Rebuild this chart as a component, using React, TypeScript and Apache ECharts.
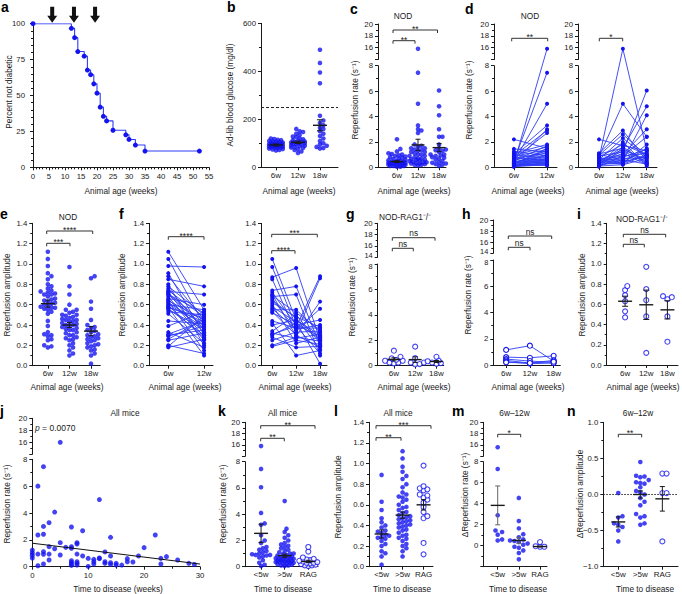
import React, { useEffect, useRef } from "react";
import * as echarts from "echarts";

const FONT = "Liberation Sans, Arial, Helvetica, sans-serif";
const BLUE = "#1414f0";
const LBLUE = "#2e3cf5";
const INK = "#1a1a1a";

// ---------------- data ----------------
// a: Kaplan-Meier
const kmWeeks = [0, 12, 13, 14, 16, 17, 18, 19, 20, 21, 22, 23, 25, 29, 30, 32, 35, 52];
const kmPercent = [100, 96.8, 90.3, 80.6, 77.4, 67.7, 64.5, 58.1, 51.6, 41.9, 35.5, 32.3, 25.8, 22.6, 19.4, 15.5, 11.3, 11.3];
const arrowWeeks = [6, 12.8, 19.4];

const ageCats3 = ["6w", "12w", "18w"];
const ageCats2 = ["6w", "12w"];
const ttdCats = ["<5w", ">5w", "RAG"];

// b: glucose
const glucose6w = [120, 118, 115, 113, 110, 108, 106, 105, 103, 101, 100, 99, 98, 97, 96, 95, 94, 93, 92, 91, 90, 89, 88, 87, 86, 85, 84, 83, 82, 80, 78, 76, 74, 72, 70, 95];
const glucose12w = [160, 150, 147, 140, 135, 128, 125, 120, 117, 113, 110, 108, 106, 105, 103, 101, 100, 98, 96, 94, 92, 90, 88, 85, 82, 80, 76, 72, 66, 60];
const glucose18w = [490, 435, 395, 350, 215, 195, 185, 175, 165, 160, 150, 140, 130, 120, 110, 100, 95, 90, 85, 80, 78];
const glucoseMean = [93, 104, 175];
const glucoseSem = [4, 5, 23];
const glucoseThreshold = 250;

// c/d: reperfusion rate NOD (paired)
const rate6w = [2.2, 1.45, 1.25, 1.1, 1.05, 1.0, 0.95, 0.9, 0.85, 0.8, 0.75, 0.7, 0.65, 0.6, 0.55, 0.5, 0.5, 0.45, 0.45, 0.4, 0.4, 0.35, 0.35, 0.3, 0.3, 0.3, 0.25, 0.25, 0.2, 0.2, 0.2, 0.15, 0.15, 0.1, 0.1, 0.1, 0.05, 0.05, 0.3, 0.35];
const rate12w = [1.5, 1.2, 0.9, 1.8, 3.3, 0.7, 1.6, 2.9, 1.4, 0.5, 1.1, 0.6, 2.7, 0.4, 1.3, 7.45, 1.7, 5.0, 0.35, 0.9, 1.0, 3.0, 0.3, 15.8, 1.2, 0.8, 0.6, 1.5, 0.25, 0.2, 0.45, 0.15, 0.7, 1.0, 0.3, 0.55, 0.2, 0.4, 1.35, 0.65];
const trio6w = [2.2, 1.1, 1.05, 1.0, 0.95, 0.9, 0.85, 0.8, 0.75, 0.7, 0.65, 0.6, 0.55, 0.5, 0.5, 0.45, 0.4, 0.4, 0.35, 0.3, 0.3, 0.25, 0.2, 0.2, 0.15, 0.1, 0.1, 0.05, 0.6];
const trio12w = [1.7, 2.9, 1.5, 0.6, 2.6, 1.2, 5.0, 1.8, 0.5, 15.8, 1.0, 2.3, 0.9, 1.4, 0.35, 0.8, 1.6, 0.25, 1.1, 0.7, 1.3, 0.3, 2.0, 0.45, 0.6, 0.2, 1.5, 0.9, 0.4];
const trio18w = [1.3, 0.5, 4.8, 1.2, 0.9, 6.05, 2.4, 1.0, 4.1, 1.35, 3.0, 0.8, 2.4, 0.6, 1.0, 1.4, 0.4, 0.95, 0.2, 0.75, 0.3, 1.8, 0.1, 0.85, 0.25, 0.7, 0.35, 1.1, 1.5];
const rateMean = [0.45, 1.76, 1.55];
const rateSem = [0.07, 0.45, 0.32];

// e/f: amplitude NOD
const amp6w = [1.12, 1.05, 0.98, 0.91, 0.88, 0.85, 0.8, 0.78, 0.76, 0.74, 0.73, 0.72, 0.71, 0.7, 0.7, 0.68, 0.66, 0.65, 0.64, 0.63, 0.62, 0.61, 0.6, 0.59, 0.58, 0.57, 0.57, 0.56, 0.55, 0.53, 0.51, 0.44, 0.39, 0.33, 0.31, 0.3, 0.29, 0.26, 0.25, 0.2, 0.19, 0.18];
const amp12w = [0.55, 0.4, 0.97, 0.3, 0.45, 0.78, 0.2, 0.5, 0.35, 0.48, 0.7, 0.28, 0.42, 0.38, 0.52, 0.25, 0.6, 0.33, 0.45, 0.15, 0.4, 0.37, 0.55, 0.27, 0.43, 0.1, 0.47, 0.3, 0.36, 0.5, 0.22, 0.41, 0.53, 0.18, 0.44, 0.35, 0.39, 0.46, 0.32, 0.12, 0.49, 0.26];
const ampTrio6w = [1.05, 0.97, 0.87, 0.85, 0.74, 0.72, 0.7, 0.69, 0.68, 0.66, 0.64, 0.62, 0.6, 0.58, 0.56, 0.55, 0.53, 0.52, 0.44, 0.42, 0.4, 0.34, 0.32, 0.31, 0.3, 0.28, 0.25, 0.2, 0.19];
const ampTrio12w = [0.45, 0.38, 0.96, 0.32, 0.78, 0.4, 0.29, 0.52, 0.7, 0.35, 0.47, 0.48, 0.22, 0.43, 0.36, 0.55, 0.3, 0.4, 0.37, 0.1, 0.45, 0.5, 0.27, 0.39, 0.42, 0.18, 0.33, 0.28, 0.25];
const ampTrio18w = [0.3, 0.88, 0.25, 0.86, 0.2, 0.45, 0.63, 0.35, 0.1, 0.56, 0.16, 0.38, 0.28, 0.02, 0.4, 0.33, 0.18, 0.29, 0.37, 0.15, 0.27, 0.22, 0.31, 0.12, 0.26, 0.19, 0.34, 0.24, 0.21];
const ampMean = [0.61, 0.4, 0.34];
const ampSem = [0.035, 0.025, 0.045];

// g/h/i: NOD-RAG1-/-
const ragRate6w = [1.18, 0.7, 0.58, 0.45, 0.39, 0.39, 0.24, 0.24, 0.18];
const ragRate12w = [1.5, 0.6, 0.25, 0.25, 0.13, 0.1];
const ragRate18w = [0.7, 0.4, 0.35, 0.3, 0.25, 0.2, 0.15];
const ragRateMean = [0.5, 0.48, 0.33];
const ragRateSem = [0.12, 0.22, 0.08];
const ragPair6w = [1.15, 0.6, 0.45, 0.35, 0.25, 0.2];
const ragPair12w = [1.47, 0.55, 0.3, 0.15, 0.1, 0.15];
const ragPair18w = [0.3, 0.7, 0.2, 0.35, 0.15, 0.25];
const ragAmp6w = [0.78, 0.74, 0.69, 0.63, 0.53, 0.47];
const ragAmp12w = [0.97, 0.75, 0.64, 0.48, 0.12];
const ragAmp18w = [0.68, 0.67, 0.65, 0.48, 0.23];
const ragAmpMean = [0.63, 0.595, 0.545];
const ragAmpSem = [0.05, 0.145, 0.09];

// j: rate vs time to disease
const ttdWeeks = [0, 0, 0, 0, 1, 1, 1, 1, 2, 2, 2, 2, 2, 2, 3, 3, 3, 3, 4, 4, 5, 5, 5, 6, 7, 7, 7, 7, 7, 7, 7, 8, 8, 8, 8, 8, 8, 9, 9, 10, 10, 11, 11, 11, 12, 12, 12, 13, 13, 13, 14, 14, 14, 14, 15, 15, 16, 17, 17, 18, 19, 20, 22, 23, 23, 24, 26, 28, 29];
const ttdRate = [1.24, 1.04, 0.85, 0.65, 6.0, 2.36, 0.94, 0.07, 7.45, 3.0, 2.42, 1.12, 0.92, 0.2, 3.28, 1.49, 0.94, 0.5, 4.07, 1.34, 16, 1.79, 0.87, 1.44, 2.96, 1.49, 1.37, 0.45, 0.32, 0.2, 0.1, 1.79, 1.69, 0.94, 0.37, 0.25, 0.12, 2.68, 0.8, 0.62, 0.02, 0.55, 0.37, 0.2, 5.0, 0.65, 0.6, 1.1, 0.37, 0.25, 2.19, 0.8, 0.3, 0.17, 0.25, 0.12, 0.12, 0.6, 0.37, 0.35, 0.8, 1.42, 2.36, 0.62, 0.2, 0.75, 0.5, 0.25, 0.17];
const regIntercept = 1.75;
const regSlope = -0.0517;
const regRange = [0, 30];

// k: rate by time to disease
const allRateLt5 = [15.8, 7.45, 6.05, 4.1, 3.3, 3.2, 2.4, 2.0, 1.8, 1.5, 1.4, 1.3, 1.2, 1.1, 1.0, 0.95, 0.9, 0.9, 0.85, 0.8, 0.7, 0.5, 0.3, 0.15, 0.05];
const allRateGt5 = [5.0, 2.9, 2.65, 2.4, 2.2, 2.0, 1.8, 1.7, 1.6, 1.5, 1.4, 1.3, 1.2, 1.1, 1.0, 1.0, 0.95, 0.9, 0.85, 0.8, 0.75, 0.7, 0.65, 0.6, 0.6, 0.55, 0.5, 0.5, 0.45, 0.4, 0.4, 0.35, 0.3, 0.3, 0.25, 0.2, 0.2, 0.15, 0.1, 0.1, 0.05, 0.6, 0.7, 0.45, 0.35];
const allRateRag = [1.5, 1.15, 0.7, 0.6, 0.55, 0.5, 0.45, 0.4, 0.35, 0.3, 0.3, 0.25, 0.2, 0.15, 0.1, 0.1, 0.05];
const allRateMean = [2.54, 0.84, 0.4];
const allRateSem = [0.7, 0.12, 0.09];

// l: amplitude by time to disease
const allAmpLt5 = [0.89, 0.63, 0.55, 0.47, 0.43, 0.4, 0.38, 0.35, 0.33, 0.31, 0.3, 0.29, 0.27, 0.25, 0.22, 0.2, 0.15, 0.13, 0.1, 0.02, 0.34, 0.28];
const allAmpGt5 = [1.12, 1.05, 0.97, 0.92, 0.88, 0.85, 0.8, 0.77, 0.72, 0.7, 0.68, 0.67, 0.65, 0.63, 0.6, 0.58, 0.57, 0.55, 0.53, 0.52, 0.5, 0.49, 0.48, 0.47, 0.46, 0.45, 0.44, 0.43, 0.42, 0.41, 0.4, 0.39, 0.38, 0.36, 0.35, 0.33, 0.31, 0.3, 0.28, 0.27, 0.25, 0.22, 0.2, 0.18, 0.15, 0.1];
const allAmpRag = [0.98, 0.78, 0.76, 0.75, 0.74, 0.7, 0.69, 0.67, 0.65, 0.62, 0.58, 0.53, 0.49, 0.47, 0.23, 0.12];
const allAmpMean = [0.317, 0.5, 0.6];
const allAmpSem = [0.04, 0.03, 0.05];

// m: delta rate 6w-12w
const dRateLt5 = [15.6, 7.3, 2.9, 1.45, 1.3, 1.05, 0.6, 0.5];
const dRateGt5 = [4.55, 2.35, 1.65, 1.1, 0.8, 0.6, 0.5, 0.45, 0.35, 0.2, 0.1, -0.1, -0.2, -0.45, -0.7, -1.3];
const dRateRag = [0.35, 0.05, -0.05, -0.1, -0.1];
const dRateMean = [3.84, 0.5, -0.08];
const dRateSem = [1.85, 0.3, 0.07];

// n: delta amplitude 6w-12w
const dAmpLt5 = [0.02, -0.3, -0.32, -0.4, -0.42, -0.45, -0.5, -0.65];
const dAmpGt5 = [0.45, 0.26, 0.25, 0.24, 0.2, 0.17, 0.16, 0.15, 0.1, 0.05, 0.03, 0.0, -0.05, -0.1, -0.15, -0.27, -0.3, -0.32, -0.4, -0.42];
const dAmpRag = [0.29, 0.29, 0.02, 0.02, -0.65];
const dAmpMean = [-0.38, 0.0, -0.06];
const dAmpSem = [0.07, 0.05, 0.17];

// ---------------- builders ----------------
function buildOption() {
  const grids: any[] = [];
  const xAxes: any[] = [];
  const yAxes: any[] = [];
  const series: any[] = [];
  const graphics: any[] = [];

  const line = { show: true, onZero: false, lineStyle: { color: INK, width: 1 } };
  const tickStyle = { color: INK, width: 1 };

  function addGrid(g: any, x: any, y: any) {
    grids.push({ left: g.left, top: g.top, width: g.width, height: g.height, containLabel: false });
    const gi = grids.length - 1;
    xAxes.push({ gridIndex: gi, ...x });
    yAxes.push({ gridIndex: gi, ...y });
    return gi;
  }

  function yCfg(min: number, max: number, interval: number, o: any = {}) {
    return {
      type: "value", min, max, interval,
      axisLine: line,
      axisTick: { show: true, length: 3, lineStyle: tickStyle },
      minorTick: o.minor ? { show: true, splitNumber: o.minor, length: 2, lineStyle: tickStyle } : { show: false },
      axisLabel: {
        fontFamily: FONT, fontSize: 7.8, color: INK, margin: o.margin ?? 5,
        formatter: (v: number) => {
          if (o.hide && o.hide.some((h: number) => Math.abs(h - v) < 1e-6)) return "";
          return o.fmt ? o.fmt(v) : String(Math.round(v * 1000) / 1000);
        },
      },
      splitLine: { show: false },
      minorSplitLine: { show: false },
    };
  }

  function xCat(cats: string[], min: number, max: number) {
    const vals = cats.map((_, i) => i);
    return {
      type: "value", min, max,
      axisLine: line,
      axisTick: { show: true, length: 3, customValues: vals, lineStyle: tickStyle },
      axisLabel: { customValues: vals, formatter: (v: number) => cats[Math.round(v)] ?? "", fontFamily: FONT, fontSize: 8, color: INK, margin: 4 },
      splitLine: { show: false },
    };
  }

  function xVal(min: number, max: number, interval: number, minor: number) {
    return {
      type: "value", min, max, interval,
      axisLine: line,
      axisTick: { show: true, length: 3, lineStyle: tickStyle },
      minorTick: { show: true, splitNumber: minor, length: 2, lineStyle: tickStyle },
      axisLabel: { fontFamily: FONT, fontSize: 7.8, color: INK, margin: 5 },
      splitLine: { show: false },
      minorSplitLine: { show: false },
    };
  }

  const ident = (v: number) => v;

  function addPlain(g: any, x: any, y: any) {
    const gi = addGrid(g, x, y);
    return { gi, tf: ident, pxPerY: g.height / (y.max - y.min), xPerPx: (x.max - x.min) / g.width };
  }

  // ---------- texts ----------
  function txt(x: number, y: number, text: string, o: any = {}) {
    graphics.push({
      type: "text", x, y, silent: true, z: 10,
      style: { text, fontFamily: FONT, fontSize: 8.3, fill: INK, textAlign: "center", align: "center", textVerticalAlign: "middle", verticalAlign: "middle", ...o },
    });
  }

  function addBroken(b: any) {
    const k = (b.y0 - b.lTop) / (b.lMax - b.lMin);
    const ku = (b.uBot - b.uTop) / (b.uMax - b.uMin);
    const tf = (v: number) => (v <= b.lMax ? (v - b.lMin) * k : b.y0 - b.uBot + (v - b.uMin) * ku);
    const H = b.y0 - b.uTop;
    const hideL = (b.hideL || []).concat(b.sepLabels ? [b.lMax] : []);
    const hideU = (b.hideU || []).concat(b.sepLabels ? [b.uMin] : []);
    addGrid({ left: b.left, top: b.lTop, width: b.width, height: b.y0 - b.lTop }, b.x,
      yCfg(b.lMin, b.lMax, 2, { minor: 2, hide: hideL }));
    addGrid({ left: b.left, top: b.uTop, width: b.width, height: b.uBot - b.uTop }, { ...b.x, show: false },
      yCfg(b.uMin, b.uMax, 2, { minor: 2, hide: hideU }));
    const gi = addGrid({ left: b.left, top: b.uTop, width: b.width, height: H },
      { type: "value", show: false, min: b.x.min, max: b.x.max },
      { type: "value", show: false, min: 0, max: H });
    if (b.sepLabels) {
      const o = { fontSize: 7.4, textAlign: "right", align: "right" };
      txt(b.left - 5, b.uBot - 2.2, String(b.uMin), o);
      txt(b.left - 5, b.lTop + 2.4, String(b.lMax), o);
    }
    return { gi, tf, pxPerY: 1, xPerPx: (b.x.max - b.x.min) / b.width };
  }

  function swarm(vals: number[], cat: number, P: any, dist: number, maxHW: number) {
    const idx = vals.map((_, i) => i).sort((a, b) => vals[a] - vals[b]);
    const placed: number[][] = [];
    const out: number[][] = [];
    const step = dist / 2;
    for (const i of idx) {
      const y = P.tf(vals[i]);
      const py = y * P.pxPerY;
      let best = 0;
      let bestD = -1;
      for (let kk = 0; ; kk++) {
        const off = kk === 0 ? 0 : (kk % 2 === 1 ? 1 : -1) * Math.ceil(kk / 2) * step;
        if (Math.abs(off) > maxHW) break;
        let md = Infinity;
        for (const p of placed) {
          const d = Math.hypot(p[0] - off, p[1] - py);
          if (d < md) md = d;
        }
        if (md >= dist) { best = off; bestD = md; break; }
        if (md > bestD) { bestD = md; best = off; }
      }
      placed.push([best, py]);
      out.push([cat + best * P.xPerPx, y]);
    }
    return out;
  }

  function dots(P: any, pts: number[][], hollow: boolean, size = 4.6) {
    series.push({
      type: "scatter", xAxisIndex: P.gi, yAxisIndex: P.gi, data: pts, silent: true, z: 3,
      symbolSize: hollow ? 5 : size,
      itemStyle: hollow ? { color: "#ffffff", borderColor: BLUE, borderWidth: 1.1 } : { color: BLUE },
    });
  }

  function groups(P: any, gs: number[][], hollowFlags: boolean[], dist: number, maxHW: number, size = 4.6) {
    gs.forEach((vals, i) => dots(P, swarm(vals, i, P, dist, maxHW), hollowFlags[i], size));
  }

  function pairs(P: any, cols: number[][], hollow: boolean) {
    const n = cols[0].length;
    for (let s = 0; s < n; s++) {
      series.push({
        type: "line", xAxisIndex: P.gi, yAxisIndex: P.gi, silent: true, z: 3,
        data: cols.map((c, i) => [i, P.tf(c[s])]),
        symbol: "circle", symbolSize: hollow ? 5 : 4, showSymbol: true,
        lineStyle: { color: LBLUE, width: 0.9 },
        itemStyle: hollow ? { color: "#ffffff", borderColor: BLUE, borderWidth: 1.1 } : { color: BLUE },
      });
    }
  }

  function meanSem(P: any, means: number[], sems: number[], hw: number, cw: number, semColor = INK) {
    series.push({
      type: "custom", xAxisIndex: P.gi, yAxisIndex: P.gi, z: 6, silent: true,
      data: means.map((m, i) => [i, P.tf(m), P.tf(m + sems[i]), P.tf(m - sems[i])]),
      encode: { x: 0, y: 1 },
      renderItem: (_p: any, api: any) => {
        const x = api.value(0);
        const c = api.coord([x, api.value(1)]);
        const t = api.coord([x, api.value(2)]);
        const b = api.coord([x, api.value(3)]);
        const ls = { stroke: semColor, lineWidth: 1 };
        return {
          type: "group",
          children: [
            { type: "line", shape: { x1: t[0], y1: t[1], x2: b[0], y2: b[1] }, style: ls },
            { type: "line", shape: { x1: t[0] - cw, y1: t[1], x2: t[0] + cw, y2: t[1] }, style: ls },
            { type: "line", shape: { x1: b[0] - cw, y1: b[1], x2: b[0] + cw, y2: b[1] }, style: ls },
            { type: "line", shape: { x1: c[0] - hw, y1: c[1], x2: c[0] + hw, y2: c[1] }, style: { stroke: INK, lineWidth: 1.4 } },
          ],
        };
      },
    });
  }

  function vtxt(x: number, y: number, text: string) {
    graphics.push({
      type: "text", x, y, rotation: Math.PI / 2, silent: true, z: 10,
      style: { text, fontFamily: FONT, fontSize: 8.3, fill: INK, textAlign: "center", align: "center", textVerticalAlign: "middle", verticalAlign: "middle" },
    });
  }
  function letter(x: number, y: number, t: string) {
    txt(x, y, t, { fontSize: 14, fontWeight: "bold", textAlign: "left", align: "left", textVerticalAlign: "top", verticalAlign: "top", fill: "#000" });
  }
  function bracket(x1: number, x2: number, y: number, label: string) {
    graphics.push({
      type: "polyline", silent: true, z: 10,
      shape: { points: [[x1, y + 3], [x1, y], [x2, y], [x2, y + 3]] },
      style: { stroke: "#333", lineWidth: 1, fill: "none" },
    });
    const isStar = label.indexOf("*") >= 0;
    txt((x1 + x2) / 2, isStar ? y - 1.2 : y - 4.5, label, { fontSize: isStar ? 8.5 : 8.3 });
  }

  const RATE = "Reperfusion rate (s⁻¹)";
  const AMP = "Reperfusion amplitude";
  const AGE = "Animal age (weeks)";
  const TTD = "Time to disease";
  const RAGT = "NOD-RAG1⁻/⁻";

  // ================= Row 1 =================
  // a
  const A = addPlain({ left: 33, top: 23.7, width: 176, height: 143.6 }, xVal(0, 55, 5, 5), yCfg(0, 100, 25, { minor: 5, margin: 8 }));
  series.push({
    type: "line", xAxisIndex: A.gi, yAxisIndex: A.gi, step: "end", silent: true,
    data: kmWeeks.map((w, i) => [w, kmPercent[i]]),
    symbol: "circle", symbolSize: 5, showSymbol: true,
    lineStyle: { color: LBLUE, width: 1.1 }, itemStyle: { color: BLUE },
    markPoint: {
      silent: true,
      symbol: "path://M3,0L7,0L7,9L10,9L5,16L0,9L3,9Z",
      symbolSize: [10, 16], symbolKeepAspect: false, symbolOffset: [0, -9],
      itemStyle: { color: "#111" }, label: { show: false },
      data: arrowWeeks.map((w) => ({ coord: [w, 100] })),
    },
  });
  letter(1, 0, "a");
  vtxt(9, 92, "Percent not diabetic");
  txt(121, 190.5, AGE);

  // b
  const B = addPlain({ left: 261, top: 23.3, width: 77, height: 144 }, xCat(ageCats3, -0.68, 2.82), yCfg(0, 600, 200, { minor: 2 }));
  groups(B, [glucose6w, glucose12w, glucose18w], [false, false, false], 3.4, 8);
  series[series.length - 1].markLine = {
    silent: true, symbol: ["none", "none"], label: { show: false },
    lineStyle: { color: "#222", type: [3, 2], width: 1 },
    data: [{ yAxis: glucoseThreshold }],
  };
  meanSem(B, glucoseMean, glucoseSem, 7, 3);
  letter(227, 0, "b");
  vtxt(230, 95, "Ad-lib blood glucose (mg/dl)");
  txt(299, 190.5, AGE);

  // c
  const yRow1 = { y0: 167.3, lTop: 65.7, uBot: 59.5, uTop: 24, lMin: 0, lMax: 8, uMin: 14, uMax: 20, hideU: [14] };
  const C = addBroken({ left: 378, width: 68, x: xCat(ageCats3, -0.9, 2.33), ...yRow1 });
  groups(C, [rate6w, rate12w, trio18w], [false, false, false], 3.4, 10);
  meanSem(C, rateMean, rateSem, 6.5, 2.5);
  letter(350, 2, "c");
  txt(403, 16, "NOD");
  bracket(393, 437.5, 30, "**");
  bracket(393, 415, 40.7, "**");
  vtxt(355, 100, RATE);
  txt(414, 190.5, AGE);

  // d left
  const D1 = addBroken({ left: 494, width: 63, x: xCat(ageCats2, -0.6, 1.3), ...yRow1 });
  pairs(D1, [rate6w, rate12w], false);
  // d right
  const D2 = addBroken({ left: 578, width: 79, x: xCat(ageCats3, -0.88, 2.43), ...yRow1 });
  pairs(D2, [trio6w, trio12w, trio18w], false);
  letter(465, 2, "d");
  txt(530, 16, "NOD");
  bracket(511.7, 547.7, 38.3, "**");
  bracket(599.3, 622.7, 38.3, "*");
  vtxt(469, 100, RATE);
  txt(528, 190.5, AGE);
  txt(622, 190.5, AGE);

  // ================= Row 2 =================
  const fmt1 = (v: number) => v.toFixed(1);
  const yAmp = () => yCfg(0, 1.4, 0.2, { minor: 2, fmt: fmt1 });
  // e
  const E = addPlain({ left: 32.3, top: 223.3, width: 68, height: 142.4 }, xCat(ageCats3, -0.72, 2.43), yAmp());
  groups(E, [amp6w, amp12w, ampTrio18w], [false, false, false], 3.6, 10);
  meanSem(E, ampMean, ampSem, 7, 2.5);
  letter(0, 207, "e");
  txt(68, 216.5, "NOD");
  bracket(46.7, 92.7, 231, "****");
  bracket(46.7, 70, 243.3, "***");
  vtxt(6.7, 295, AMP);
  txt(67, 386.5, AGE);

  // f left
  const F1 = addPlain({ left: 149, top: 223.3, width: 64, height: 142.4 }, xCat(ageCats2, -0.54, 1.25), yAmp());
  pairs(F1, [amp6w, amp12w], false);
  // f right
  const F2 = addPlain({ left: 261, top: 223.3, width: 66, height: 142.4 }, xCat(ageCats3, -0.47, 2.29), yAmp());
  pairs(F2, [ampTrio6w, ampTrio12w, ampTrio18w], false);
  letter(119, 207, "f");
  bracket(168.3, 204, 236.7, "****");
  bracket(271.7, 317.3, 234.3, "***");
  bracket(271.7, 295, 250.7, "****");
  vtxt(122, 295, AMP);
  txt(185, 386.5, AGE);
  txt(295, 386.5, AGE);

  // g
  const G = addBroken({ left: 377.7, width: 66, x: xCat(ageCats3, -0.76, 2.34), y0: 365.7, lTop: 264, uBot: 257.3, uTop: 223.3, lMin: 0, lMax: 8, uMin: 14, uMax: 20, sepLabels: true });
  groups(G, [ragRate6w, ragRate12w, ragRate18w], [true, true, true], 4.4, 10);
  meanSem(G, ragRateMean, ragRateSem, 6.5, 2.5);
  letter(346, 207, "g");
  txt(405, 216.5, RAGT);
  bracket(392.3, 435, 237.7, "ns");
  bracket(392.3, 413.3, 248.3, "ns");
  vtxt(352, 297, RATE);
  txt(414, 386.5, AGE);

  // h
  const H = addBroken({ left: 493.3, width: 67, x: xCat(ageCats3, -0.54, 2.28), y0: 365, lTop: 260, uBot: 253.3, uTop: 220, lMin: 0, lMax: 8, uMin: 14, uMax: 20, sepLabels: true });
  pairs(H, [ragPair6w, ragPair12w, ragPair18w], true);
  letter(462, 207, "h");
  bracket(508.3, 551.7, 236, "ns");
  bracket(508.3, 530, 247.3, "ns");
  vtxt(468, 295, RATE);
  txt(528, 386.5, AGE);

  // i
  const I = addPlain({ left: 606.7, top: 223.3, width: 71.3, height: 141.7 }, xCat(ageCats3, -0.87, 2.5), yAmp());
  groups(I, [ragAmp6w, ragAmp12w, ragAmp18w], [true, true, true], 4.4, 8);
  meanSem(I, ragAmpMean, ragAmpSem, 7, 3);
  letter(577, 207, "i");
  txt(642, 219, RAGT);
  bracket(623.3, 665.7, 234.3, "ns");
  bracket(623.3, 644.3, 244.3, "ns");
  vtxt(582, 295, AMP);
  txt(643, 386.5, AGE);

  // ================= Row 3 =================
  // j
  const J = addBroken({ left: 32.3, width: 167.7, x: xVal(0, 30, 10, 2), y0: 566.7, lTop: 459.3, uBot: 454.3, uTop: 418.3, lMin: 0, lMax: 8, uMin: 14, uMax: 20, hideU: [14] });
  dots(J, ttdWeeks.map((w, i) => [w, J.tf(ttdRate[i])]), false, 5);
  series.push({
    type: "line", xAxisIndex: J.gi, yAxisIndex: J.gi, silent: true, z: 4, showSymbol: false, symbol: "none",
    data: regRange.map((x) => [x, J.tf(regIntercept + regSlope * x)]),
    lineStyle: { color: "#111", width: 1 },
  });
  letter(0, 404, "j");
  txt(125, 413.3, "All mice");
  graphics.push({
    type: "text", x: 35, y: 428.3, silent: true, z: 10,
    style: {
      text: "{i|p} = 0.0070", fontFamily: FONT, fontSize: 8.5, fill: INK,
      textAlign: "left", align: "left", textVerticalAlign: "middle", verticalAlign: "middle",
      rich: { i: { fontStyle: "italic", fontFamily: FONT, fontSize: 8.5, fill: INK } },
    },
  });
  vtxt(7, 504, RATE);
  txt(118, 589, "Time to disease (weeks)");

  // k
  const K = addBroken({ left: 245, width: 73, x: xCat(ttdCats, -0.68, 2.41), y0: 566.7, lTop: 461.7, uBot: 456.3, uTop: 422.3, lMin: 0, lMax: 8, uMin: 14, uMax: 20, hideU: [14] });
  groups(K, [allRateLt5, allRateGt5, allRateRag], [false, false, true], 3.6, 10);
  meanSem(K, allRateMean, allRateSem, 7, 2.5);
  letter(218, 404, "k");
  txt(282.5, 413.3, "All mice");
  bracket(260.7, 315, 425.7, "**");
  bracket(260.7, 284.3, 438.3, "**");
  vtxt(223, 504, RATE);
  txt(283, 588.5, TTD);

  // l
  const L = addPlain({ left: 369, top: 422.3, width: 64, height: 144.4 }, xCat(ttdCats, -0.6, 2.45), yCfg(0, 1.4, 0.2, { minor: 2, fmt: fmt1 }));
  groups(L, [allAmpLt5, allAmpGt5, allAmpRag], [false, false, true], 3.8, 10);
  meanSem(L, allAmpMean, allAmpSem, 7, 2.5);
  letter(334, 404, "l");
  txt(398, 413.3, "All mice");
  bracket(376, 431, 425.7, "***");
  bracket(376, 401, 437.7, "**");
  vtxt(338, 497, AMP);
  txt(402, 588.5, TTD);

  // m
  const M = addBroken({ left: 483.3, width: 63.7, x: xCat(ttdCats, -0.68, 2.33), y0: 566.7, lTop: 461.7, uBot: 456.3, uTop: 422.3, lMin: -2, lMax: 8, uMin: 14, uMax: 20, hideU: [14], hideL: [-2] });
  groups(M, [dRateLt5, dRateGt5, dRateRag], [false, false, true], 4.4, 10);
  meanSem(M, dRateMean, dRateSem, 7, 2.5, "#666");
  letter(452, 404, "m");
  txt(514.5, 413.3, "6w–12w");
  bracket(497.7, 520.7, 434.3, "*");
  vtxt(465, 495, "ΔReperfusion rate (s⁻¹)");
  txt(518, 588.5, TTD);

  // n
  const fmtN = (v: number) => (v < 0 ? "−" + (-v).toFixed(1) : v.toFixed(1));
  const N = addPlain({ left: 603.3, top: 422.3, width: 74.7, height: 144.4 }, xCat(ttdCats, -0.68, 2.71), yCfg(-1, 1, 0.5, { minor: 2, fmt: fmtN }));
  groups(N, [dAmpLt5, dAmpGt5, dAmpRag], [false, false, true], 4.2, 10);
  series[series.length - 1].markLine = {
    silent: true, symbol: ["none", "none"], label: { show: false },
    lineStyle: { color: "#222", type: [1.5, 1.5], width: 1 },
    data: [{ yAxis: 0 }],
  };
  meanSem(N, dAmpMean, dAmpSem, 7, 2.5);
  letter(567, 404, "n");
  txt(638, 413.3, "6w–12w");
  bracket(618.3, 641.7, 434.3, "**");
  vtxt(580, 494, "ΔReperfusion amplitude");
  txt(645, 588.5, TTD);

  return {
    animation: false,
    backgroundColor: "#ffffff",
    textStyle: { fontFamily: FONT },
    grid: grids,
    xAxis: xAxes,
    yAxis: yAxes,
    series,
    graphic: { elements: graphics },
  };
}

export default function App() {
  const ref = useRef<HTMLDivElement>(null);
  useEffect(() => {
    if (!ref.current) return;
    const chart = echarts.init(ref.current, undefined, { renderer: "svg" });
    chart.setOption(buildOption() as any);
    return () => chart.dispose();
  }, []);
  return <div ref={ref} style={{ position: "absolute", left: 0, top: 0, width: 682, height: 594, background: "#fff" }} />;
}
